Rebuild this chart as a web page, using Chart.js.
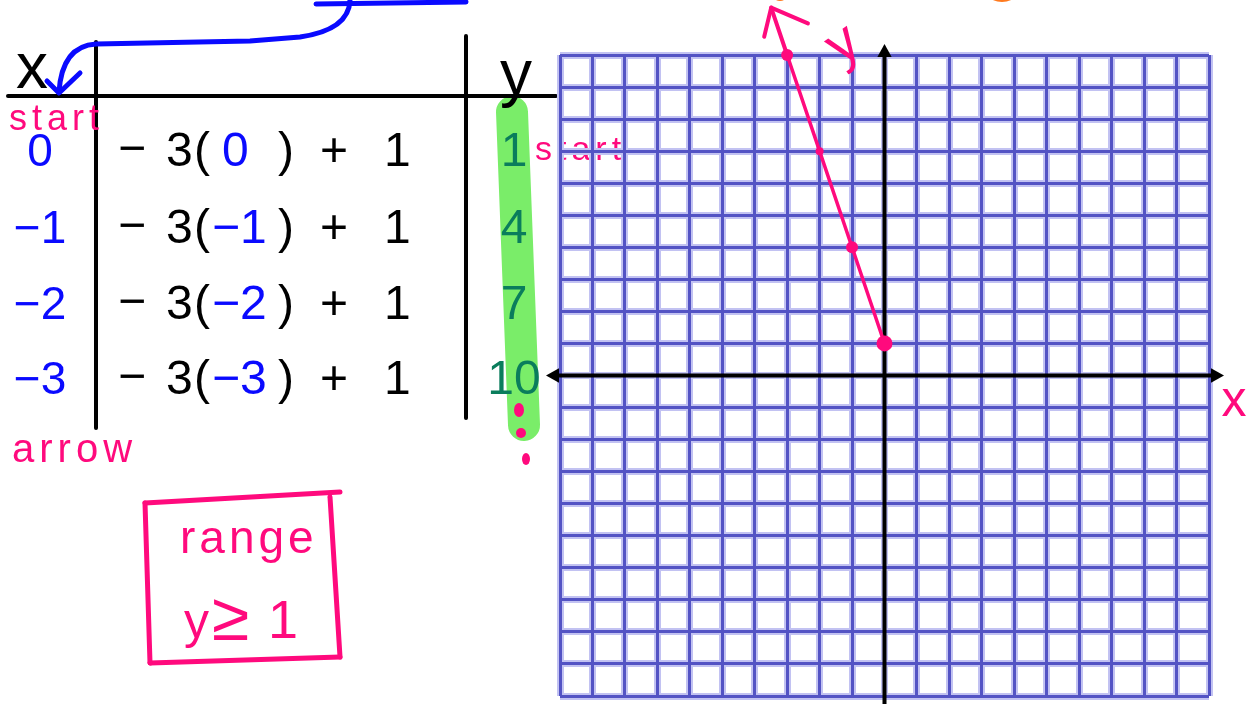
<!DOCTYPE html>
<html>
<head>
<meta charset="utf-8">
<title>y = -3x + 1</title>
<script src="https://cdn.jsdelivr.net/npm/chart.js@4.4.1/dist/chart.umd.min.js"></script>
<style>
  html, body { margin: 0; padding: 0; background: #fff; }
  #wrap { position: relative; width: 1250px; height: 704px; }
</style>
</head>
<body>
<div id="wrap"><canvas id="graph"></canvas></div>
<script>
// table of values for y = -3x + 1
const xValues = [0, -1, -2, -3];
const yValues = [1, 4, 7, 10];
const slope = -3;
const intercept = 1;
const gridTicks = [-10, -9, -8, -7, -6, -5, -4, -3, -2, -1, 0, 1, 2, 3, 4, 5, 6, 7, 8, 9, 10];
const rangeLabel = "range";
const rangeParts = ["y", "≥", "1"];

const PINK = "#ff0a7d";
const BLUE = "#0a0aff";
const TEAL = "#0a7d5c";
const GREEN = "#7aed69";
const ORANGE = "#ff7a1e";
const FONT = "'Liberation Sans', Arial, sans-serif";

// row baselines for the table
const rowBase = [166, 243, 319, 394];

const fmt = v => (v < 0 ? "\u2212" + Math.abs(v) : String(v));

function text(ctx, s, x, y, size, color, opts = {}) {
    ctx.save();
    ctx.font = (opts.weight || "normal") + " " + size + "px " + FONT;
    ctx.fillStyle = color;
    ctx.textAlign = opts.align || "left";
    ctx.textBaseline = "alphabetic";
    if (opts.spacing) ctx.letterSpacing = opts.spacing + "px";
    if (opts.rotate) {
        ctx.translate(x, y);
        ctx.rotate(opts.rotate);
        ctx.fillText(s, 0, 0);
    } else {
        ctx.fillText(s, x, y);
    }
    ctx.restore();
}

function stroke(ctx, pts, color, width) {
    ctx.save();
    ctx.strokeStyle = color;
    ctx.lineWidth = width;
    ctx.lineCap = "round";
    ctx.lineJoin = "round";
    ctx.beginPath();
    ctx.moveTo(pts[0][0], pts[0][1]);
    for (let i = 1; i < pts.length; i++) ctx.lineTo(pts[i][0], pts[i][1]);
    ctx.stroke();
    ctx.restore();
}

function dot(ctx, x, y, rx, ry, color) {
    ctx.save();
    ctx.fillStyle = color;
    ctx.beginPath();
    ctx.ellipse(x, y, rx, ry, 0, 0, Math.PI * 2);
    ctx.fill();
    ctx.restore();
}

function arrowHead(ctx, tipX, tipY, dx, dy, size) {
    // filled triangle pointing along (dx, dy)
    const px = -dy, py = dx;
    ctx.beginPath();
    ctx.moveTo(tipX, tipY);
    ctx.lineTo(tipX - dx * size + px * size * 0.55, tipY - dy * size + py * size * 0.55);
    ctx.lineTo(tipX - dx * size - px * size * 0.55, tipY - dy * size - py * size * 0.55);
    ctx.closePath();
    ctx.fill();
}

// the worksheet table on the left side
const worksheet = {
    id: "worksheet",
    beforeDraw(chart) {
        const ctx = chart.ctx;

        // orange scribbles cut off at the top edge
        dot(ctx, 1002, -4, 12, 6, ORANGE);
        dot(ctx, 780, -3, 6, 4, ORANGE);

        // highlighted y column
        stroke(ctx, [[512, 112], [524, 425]], GREEN, 32);

        // table rules
        stroke(ctx, [[8, 96], [556, 96]], "#000", 4);
        stroke(ctx, [[96, 42], [96, 428]], "#000", 4);
        stroke(ctx, [[466, 36], [466, 418]], "#000", 4);

        // headers
        text(ctx, "x", 16, 88, 64, "#000");
        text(ctx, "y", 500, 95, 64, "#000");

        // blue arrow pointing into the x column
        stroke(ctx, [[466, 2], [316, 4]], BLUE, 5);
        ctx.save();
        ctx.strokeStyle = BLUE;
        ctx.lineWidth = 5;
        ctx.lineCap = "round";
        ctx.lineJoin = "round";
        ctx.beginPath();
        ctx.moveTo(350, 0);
        ctx.quadraticCurveTo(349, 30, 300, 37);
        ctx.lineTo(250, 41);
        ctx.lineTo(96, 44);
        ctx.quadraticCurveTo(62, 46, 59, 92);
        ctx.stroke();
        ctx.restore();
        stroke(ctx, [[47, 81], [59, 93], [80, 73]], BLUE, 5);

        text(ctx, "start", 9, 130, 36, PINK, { spacing: 5 });
        text(ctx, "start", 535, 160, 34, PINK, { spacing: 5 });

        // rows: x, -3(x) + 1, y
        xValues.forEach((v, i) => {
            const b = rowBase[i];
            text(ctx, fmt(v), 40, b, 46, BLUE, { align: "center" });
            text(ctx, "\u2212", 118, b - 2, 48, "#000");
            text(ctx, String(Math.abs(slope)), 166, b, 48, "#000");
            text(ctx, "(", 194, b, 48, "#000");
            text(ctx, fmt(v), v < 0 ? 212 : 222, b, 48, BLUE);
            text(ctx, ")", 278, b, 48, "#000");
            text(ctx, "+", 320, b, 48, "#000");
            text(ctx, String(intercept), 384, b, 48, "#000");
            text(ctx, String(yValues[i]), 514, b, 48, TEAL, { align: "center" });
        });

        // dots continuing the y column
        dot(ctx, 519, 410, 5, 7, PINK);
        dot(ctx, 521, 433, 5, 5, PINK);
        dot(ctx, 526, 459, 4, 6, PINK);

        text(ctx, "arrow", 12, 462, 40, PINK, { spacing: 5 });

        // range box
        stroke(ctx, [[145, 503], [340, 492]], PINK, 5);
        stroke(ctx, [[330, 497], [340, 657]], PINK, 5);
        stroke(ctx, [[150, 663], [340, 657]], PINK, 5);
        stroke(ctx, [[145, 503], [150, 663]], PINK, 5);
        text(ctx, rangeLabel, 180, 553, 46, PINK, { spacing: 4 });
        text(ctx, rangeParts[0], 184, 638, 50, PINK);
        text(ctx, rangeParts[1], 212, 640, 68, PINK);
        text(ctx, rangeParts[2], 268, 638, 54, PINK);
    },
    beforeDatasetsDraw(chart) {
        // x and y axes with arrowheads
        const ctx = chart.ctx;
        const area = chart.chartArea;
        const x0 = chart.scales.x.getPixelForValue(0);
        const y0 = chart.scales.y.getPixelForValue(0);
        ctx.save();
        ctx.fillStyle = "#000";
        stroke(ctx, [[x0, chart.height], [x0, area.top - 4]], "#000", 4);
        arrowHead(ctx, x0, area.top - 11, 0, -1, 13);
        stroke(ctx, [[area.left - 6, y0], [area.right + 6, y0]], "#000", 4);
        arrowHead(ctx, area.left - 14, y0, -1, 0, 13);
        arrowHead(ctx, area.right + 15, y0, 1, 0, 13);
        ctx.restore();
    },
    afterDatasetsDraw(chart) {
        const ctx = chart.ctx;
        const pts = chart.getDatasetMeta(0).data;
        const a = pts[pts.length - 2], b = pts[pts.length - 1];
        let dx = b.x - a.x, dy = b.y - a.y;
        const len = Math.hypot(dx, dy);
        dx /= len; dy /= len;
        const tip = [b.x + dx * 50, b.y + dy * 50];
        stroke(ctx, [[b.x, b.y], tip], PINK, 4);
        // open arrowhead
        const back = Math.atan2(-dy, -dx);
        const l1 = back + 0.56, l2 = back - 0.84;
        stroke(ctx, [[tip[0] + Math.cos(l1) * 30, tip[1] + Math.sin(l1) * 30], tip,
                     [tip[0] + Math.cos(l2) * 40, tip[1] + Math.sin(l2) * 40]], PINK, 4);

        // axis labels
        text(ctx, "x", 1234, 416, 50, PINK, { align: "center" });
        text(ctx, "y", 852, 58, 56, PINK, { align: "center", rotate: -0.6 });
    }
};

function gridScale(axis, color, width, z) {
    return {
        type: "linear",
        axis: axis,
        position: axis === "x" ? "bottom" : "left",
        min: -10,
        max: 10,
        z: z,
        afterBuildTicks: s => { s.ticks = gridTicks.map(v => ({ value: v })); },
        ticks: { display: false },
        grid: { color: color, lineWidth: width, drawTicks: false },
        border: { display: false }
    };
}

new Chart(document.getElementById("graph").getContext("2d"), {
    type: "scatter",
    data: {
        datasets: [{
            data: xValues.map((x, i) => ({ x: x, y: yValues[i] })),
            showLine: true,
            clip: false,
            borderColor: PINK,
            borderWidth: 3.5,
            pointBackgroundColor: PINK,
            pointBorderWidth: 0,
            pointRadius: [8, 6, 4, 6]
        }]
    },
    options: {
        responsive: true,
        maintainAspectRatio: false,
        animation: false,
        events: [],
        layout: { padding: { left: 560, right: 41, top: 55, bottom: -4 } },
        plugins: { legend: { display: false }, tooltip: { enabled: false } },
        scales: {
            xh: gridScale("x", "#c2c2f2", 7, -1),
            yh: gridScale("y", "#c2c2f2", 7, -1),
            x: gridScale("x", "#5353c4", 3, 0),
            y: gridScale("y", "#5353c4", 3, 0)
        }
    },
    plugins: [worksheet]
});
</script>
</body>
</html>
